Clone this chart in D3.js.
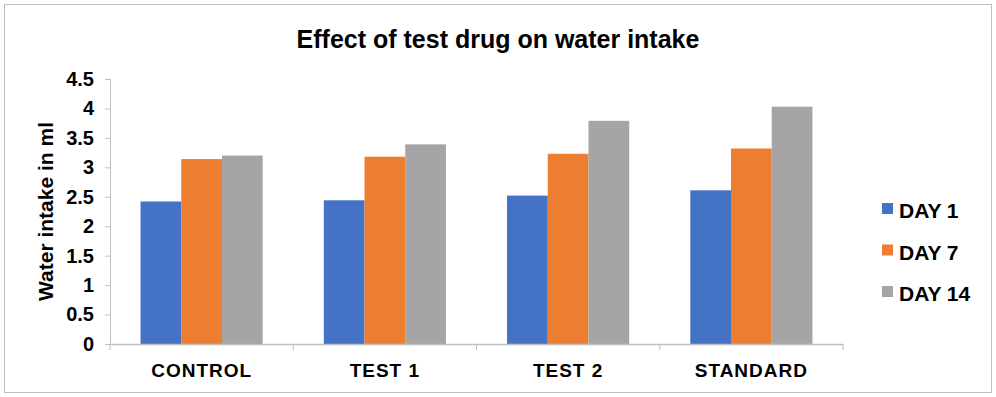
<!DOCTYPE html>
<html>
<head>
<meta charset="utf-8">
<script src="https://cdn.jsdelivr.net/npm/d3@7"></script>
<style>
  body { margin: 0; background: #fff; }
  svg text { font-family: Arial, "Liberation Sans", sans-serif; font-weight: bold; fill: #000; }
</style>
</head>
<body>
<svg width="996" height="397"></svg>
<script>
var groups = ["CONTROL", "TEST 1", "TEST 2", "STANDARD"];
var seriesNames = ["DAY 1", "DAY 7", "DAY 14"];
var day1 = [2.42, 2.44, 2.52, 2.61];
var day7 = [3.14, 3.18, 3.23, 3.32];
var day14 = [3.20, 3.39, 3.79, 4.03];
var yTicks = [0, 0.5, 1, 1.5, 2, 2.5, 3, 3.5, 4, 4.5];
var colors = ["#4472c4", "#ed7d31", "#a5a5a5"];

var svg = d3.select("svg"),
    width = +svg.attr("width"),
    height = +svg.attr("height");

var series = [day1, day7, day14];
var margin = {left: 110, right: 153, top: 79, bottom: 53};

svg.append("rect")
    .attr("x", 4.5).attr("y", 4.5)
    .attr("width", width - 9).attr("height", height - 9)
    .attr("fill", "#fff").attr("stroke", "#bfbfbf");

var x = d3.scaleBand()
    .domain(groups)
    .range([margin.left, width - margin.right]);

var x1 = d3.scaleBand()
    .domain(seriesNames)
    .range([0, x.bandwidth()])
    .paddingOuter(0.75);

var y = d3.scaleLinear()
    .domain([0, 4.5])
    .range([height - margin.bottom, margin.top]);

svg.append("text")
    .attr("x", 498).attr("y", 48)
    .attr("text-anchor", "middle")
    .style("font-size", "25px")
    .text("Effect of test drug on water intake");

// y axis
var yAxis = svg.append("g")
    .attr("transform", "translate(" + margin.left + ",0)")
    .call(d3.axisLeft(y).tickValues(yTicks).tickSize(5).tickPadding(11)
      .tickFormat(function(d) { return d; }));
yAxis.selectAll("line, path").attr("stroke", "#bfbfbf");
yAxis.select("path").attr("d", "M0.5," + y(4.5) + "V" + y(0));
yAxis.selectAll("text").style("font-size", "20px").style("font-family", "Arial, 'Liberation Sans', sans-serif");

svg.append("text")
    .attr("transform", "translate(53," + ((y(0) + y(4.5)) / 2) + ") rotate(-90)")
    .attr("text-anchor", "middle")
    .style("font-size", "21px")
    .text("Water intake in ml");

// bars
var bars = svg.append("g");
groups.forEach(function(g, i) {
  bars.selectAll(null)
    .data(series.map(function(s, j) { return {name: seriesNames[j], value: s[i], c: colors[j]}; }))
    .enter().append("rect")
      .attr("x", function(d) { return x(g) + x1(d.name); })
      .attr("y", function(d) { return y(d.value); })
      .attr("width", x1.bandwidth())
      .attr("height", function(d) { return y(0) - y(d.value); })
      .attr("fill", function(d) { return d.c; });
});

// x axis
var xAxisG = svg.append("g").attr("transform", "translate(0," + y(0) + ")");
xAxisG.append("path")
    .attr("d", "M" + margin.left + ",0.5H" + (width - margin.right))
    .attr("stroke", "#bfbfbf").attr("stroke-width", 1.5);
xAxisG.selectAll("line")
    .data(d3.range(groups.length + 1))
    .enter().append("line")
      .attr("x1", function(d) { return margin.left + d * x.step(); })
      .attr("x2", function(d) { return margin.left + d * x.step(); })
      .attr("y1", 0).attr("y2", 6)
      .attr("stroke", "#bfbfbf");
xAxisG.selectAll("text")
    .data(groups)
    .enter().append("text")
      .attr("x", function(d) { return x(d) + x.bandwidth() / 2; })
      .attr("y", 33)
      .attr("text-anchor", "middle")
      .style("font-size", "19px")
      .style("letter-spacing", "1px")
      .text(function(d) { return d; });

// legend
var legend = svg.append("g").attr("transform", "translate(882,208.5)");
var item = legend.selectAll("g")
    .data(seriesNames)
    .enter().append("g")
      .attr("transform", function(d, i) { return "translate(0," + (i * 41.5) + ")"; });
item.append("rect")
    .attr("x", 0).attr("y", -5.5).attr("width", 11).attr("height", 11)
    .attr("fill", function(d, i) { return colors[i]; });
item.append("text")
    .attr("x", 17).attr("y", 9.5)
    .style("font-size", "21px")
    .text(function(d) { return d; });
</script>
</body>
</html>
